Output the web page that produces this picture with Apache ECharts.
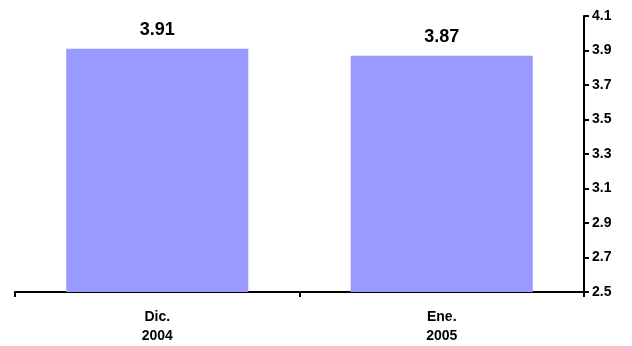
<!DOCTYPE html>
<html lang="en">
<head>
    <meta charset="UTF-8">
    <title>Dic. 2004 - Ene. 2005</title>
    <style>
        html,body{
            margin:0;
            padding:0;
            background:#fff;
        }
        #chartbox{
            width:632px;
            height:346px;
        }
    </style>
</head>
<body>
<div id="chartbox"></div>
<script src="https://cdn.jsdelivr.net/npm/echarts@6/dist/echarts.min.js"></script>
<script>
    var categories = ['Dic.\n2004', 'Ene.\n2005'],
        values = [3.91, 3.87],
        yMin = 2.5,
        yMax = 4.1,
        yStep = 0.2;

    var barColor = '#9999ff',
        axisColor = '#000',
        defaultFontFamily = '"Liberation Sans", Arial, sans-serif';

    var option = {
        backgroundColor: '#fff',
        animation: false,
        textStyle: {
            fontFamily: defaultFontFamily
        },
        grid: {
            left: 15,
            right: 48,
            top: 16,
            bottom: 52
        },
        xAxis: {
            type: 'category',
            data: categories,
            axisLine: {lineStyle: {color: axisColor, width: 2}},
            axisTick: {show: true, length: 5, lineStyle: {color: axisColor, width: 2}},
            axisLabel: {
                color: '#000',
                fontWeight: 'bold',
                fontSize: 14,
                lineHeight: 19,
                margin: 16
            }
        },
        yAxis: {
            type: 'value',
            position: 'right',
            min: yMin,
            max: yMax,
            interval: yStep,
            axisLine: {show: true, lineStyle: {color: axisColor, width: 2}},
            axisTick: {show: true, inside: false, length: 5, lineStyle: {color: axisColor, width: 2}},
            splitLine: {show: false},
            axisLabel: {
                color: '#000',
                fontWeight: 'bold',
                fontSize: 14,
                margin: 8,
                formatter: function (v) { return v.toFixed(1); }
            }
        },
        series: [
            {
                type: 'bar',
                data: values,
                barWidth: '64%',
                itemStyle: {color: barColor},
                label: {
                    show: true,
                    position: 'top',
                    distance: 10,
                    color: '#000',
                    fontWeight: 'bold',
                    fontSize: 18,
                    formatter: function (p) { return p.value.toFixed(2); }
                }
            }
        ]
    };

    var chart = echarts.init(document.getElementById('chartbox'));
    chart.setOption(option, true);
</script>
</body>
</html>
